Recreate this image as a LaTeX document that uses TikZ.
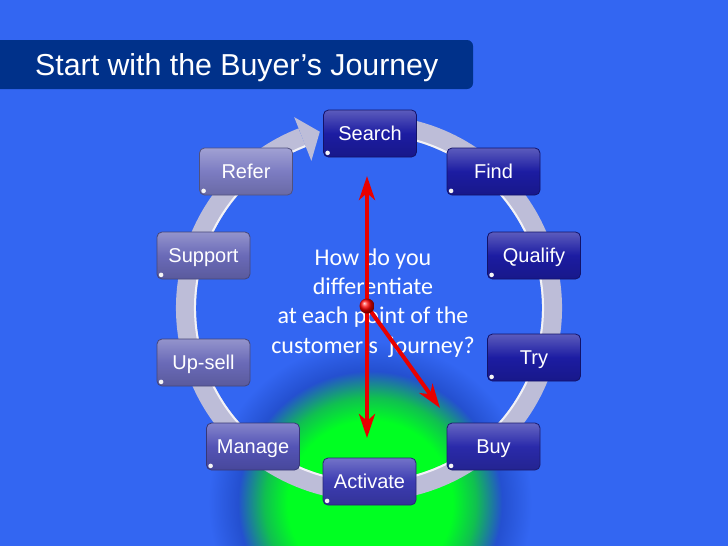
\documentclass[tikz,border=0pt]{standalone}
\usepackage{fontspec}
\setmainfont{Liberation Sans}
\newfontfamily\calib{Carlito}
\usetikzlibrary{calc,arrows.meta,shadings}
\definecolor{bgblue}{HTML}{3366F2}
\definecolor{navy}{HTML}{00318A}
\definecolor{ringgray}{HTML}{BDBDD8}
\definecolor{handred}{HTML}{E80000}
\definecolor{glowgreen}{HTML}{00FF22}
\definecolor{glowmid}{HTML}{10C050}
\definecolor{glowdark}{HTML}{2450D0}
\definecolor{cA}{HTML}{1C1CA2}
\definecolor{cB}{HTML}{2A2AAA}
\definecolor{cC}{HTML}{3C3CB2}
\definecolor{cD}{HTML}{5454B6}
\definecolor{cE}{HTML}{6A6AB8}
\definecolor{cF}{HTML}{7C7CC2}
\pgfdeclareradialshading{glow}{\pgfpoint{0bp}{0bp}}{color(0bp)=(glowgreen); color(12.5bp)=(glowgreen); color(16bp)=(glowmid); color(20bp)=(glowdark); color(24.5bp)=(bgblue); color(50bp)=(bgblue)}
\tikzset{
  jbox/.style={rounded corners=5pt, minimum width=93pt, minimum height=47pt,
    text=white, font=\fontsize{20}{24}\selectfont, text height=14.3pt, text depth=0pt,
    draw=#1!65!black, line width=0.8pt,
    top color=#1!72!white, bottom color=#1!85!black, middle color=#1},
  hand/.style={handred, line width=4pt},
  handtip/.tip={Stealth[length=24pt,width=16pt,inset=7pt]}
}
\begin{document}
\begin{tikzpicture}[x=1pt,y=1pt]
\useasboundingbox (0,0) rectangle (728,-546);
\fill[bgblue] (0,0) rectangle (728,-546);
% glow
\begin{scope}
\clip (0,0) rectangle (728,-546);
\shade[shading=glow] (370,-503) circle (165);
\end{scope}
% title bar
\fill[navy] (0,-40) [rounded corners=6pt] -- (473,-40) -- (473,-89) [sharp corners] -- (0,-89) -- cycle;
\node[anchor=base west, text=white, font=\fontsize{30.3}{35}\selectfont, inner sep=0pt] (title) at (35,-75) {Start with the Buyer’s Journey};
% ring
\coordinate (C) at (369,-308);
\draw[ringgray, line width=20pt] ($(C)+(111.4:183)$) arc[start angle=111.4, end angle=440, radius=183];
\draw[white!80!ringgray, line width=2pt] ($(C)+(111.4:174)$) arc[start angle=111.4, end angle=440, radius=174];
\fill[ringgray] ($(C)+(111.4:158)$) -- ($(C)+(105.6:183)$) -- ($(C)+(111.4:205)$) -- cycle;
% boxes
\node[jbox=cA] (search) at (370,-133.5) {Search};
\node[jbox=cA] (find) at (493.5,-171.5) {Find};
\node[jbox=cA] (qualify) at (534,-255.5) {Qualify};
\node[jbox=cA] (try) at (534,-357.5) {Try};
\node[jbox=cB] (buy) at (493.5,-446.5) {Buy};
\node[jbox=cC] (activate) at (369.5,-481.5) {Activate};
\node[jbox=cD] (manage) at (253,-446.5) {Manage};
\node[jbox=cE] (upsell) at (203.5,-362.5) {Up-sell};
\node[jbox=cE] (support) at (203.5,-255.5) {Support};
\node[jbox=cF] (refer) at (246,-171.5) {Refer};
\foreach \n in {search,find,qualify,try,buy,activate,manage,upsell,support,refer}
  \fill[white!92!gray] ($(\n.south west)+(4.5,4.5)$) circle (2.3);
% question
\node[font=\calib\fontsize{24}{29.2}\selectfont, text=white, align=center] (q) at (373,-303) {How do you\\differentiate\\at each point of the\\customer’s\ \ journey?};
% hands
\coordinate (hub) at (367,-306);
\coordinate (htop) at (367,-176);
\coordinate (hbot) at (367,-438);
\coordinate (hdiag) at (440,-408);
\draw[hand, {handtip}-{handtip}] (htop) -- (hbot);
\draw[hand, -{handtip}] (hub) -- (hdiag);
\shade[ball color=red] (hub) circle (7.5);
\end{tikzpicture}
\end{document}
